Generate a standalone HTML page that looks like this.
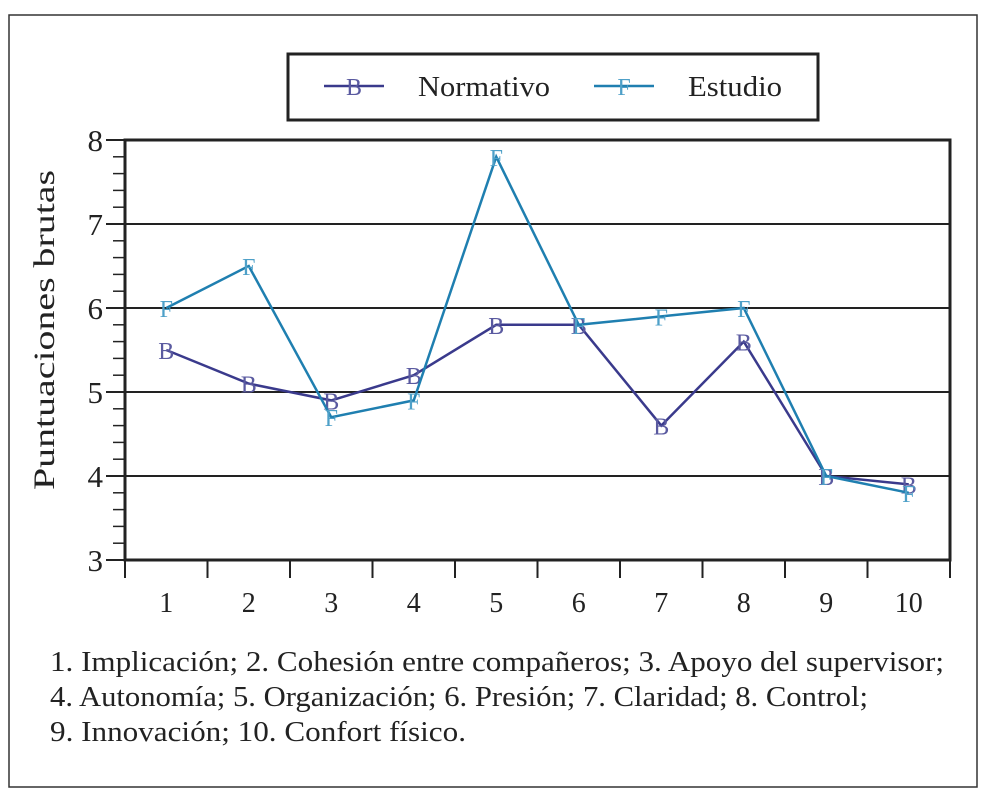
<!DOCTYPE html>
<html><head><meta charset="utf-8"><style>
body{margin:0;background:#fff;width:987px;height:800px;overflow:hidden}
svg text{font-family:"Liberation Serif",serif;fill:#222}
</style></head><body>
<svg width="987" height="800">
<rect x="9" y="15" width="968" height="772" fill="none" stroke="#333" stroke-width="1.5"/>
<g>
<rect x="288" y="54" width="530" height="66" fill="none" stroke="#222" stroke-width="3"/>
<g>
<line x1="324" y1="86" x2="384" y2="86" stroke="#3a3a8c" stroke-width="2.5"/>
<text x="354" y="95" font-size="24" text-anchor="middle" style="fill:#5a5aa0">B</text>
<text x="418" y="96" font-size="28" textLength="132" lengthAdjust="spacingAndGlyphs">Normativo</text></g>
<g>
<line x1="594" y1="86" x2="654" y2="86" stroke="#1f7fb0" stroke-width="2.5"/>
<text x="624" y="95" font-size="24" text-anchor="middle" style="fill:#4ea0c8">F</text>
<text x="688" y="96" font-size="28" textLength="94" lengthAdjust="spacingAndGlyphs">Estudio</text></g>
</g>
<text transform="translate(54,330) rotate(-90)" font-size="30" text-anchor="middle" textLength="320" lengthAdjust="spacingAndGlyphs">Puntuaciones brutas</text>
<g id="plot"></g>
<g font-size="28">
<text x="50" y="671" textLength="894" lengthAdjust="spacingAndGlyphs">1. Implicación; 2. Cohesión entre compañeros; 3. Apoyo del supervisor;</text>
<text x="50" y="706" textLength="818" lengthAdjust="spacingAndGlyphs">4. Autonomía; 5. Organización; 6. Presión; 7. Claridad; 8. Control;</text>
<text x="50" y="741" textLength="416" lengthAdjust="spacingAndGlyphs">9. Innovación; 10. Confort físico.</text>
</g>
</svg>
<script>
const categories=["1","2","3","4","5","6","7","8","9","10"];
const normativo=[5.5,5.1,4.9,5.2,5.8,5.8,4.6,5.6,4.0,3.9];
const estudio=[6.0,6.5,4.7,4.9,7.8,5.8,5.9,6.0,4.0,3.8];
const yTicks=[3,4,5,6,7,8];
const L=125,R=950,T=140,B=560,ymin=3,ymax=8;
const NS="http://www.w3.org/2000/svg";
const g=document.getElementById('plot');
const sx=i=>L+(R-L)/categories.length*(i+0.5);
const sy=v=>B-(v-ymin)/(ymax-ymin)*(B-T);
function mk(t,a,p){const e=document.createElementNS(NS,t);for(const k in a)e.setAttribute(k,a[k]);(p||g).appendChild(e);return e;}
yTicks.forEach(v=>{
 if(v>ymin&&v<ymax){const l=mk('line',{x1:L,x2:R,y1:sy(v),y2:sy(v),stroke:'#222','stroke-width':2});
 
 }
 const m=mk('line',{x1:L-19,x2:L,y1:sy(v),y2:sy(v),stroke:'#222','stroke-width':2});
 
 
 const t=mk('text',{x:L-22,y:sy(v)+11,'font-size':31,'text-anchor':'end'});t.textContent=v;
 
 
});
for(let v=ymin;v<ymax;v++)for(let k=1;k<5;k++){const y=sy(v+k*0.2);
 const m=mk('line',{x1:L-12,x2:L,y1:y,y2:y,stroke:'#222','stroke-width':1.5});
 
 }
const fr=mk('rect',{x:L,y:T,width:R-L,height:B-T,fill:'none',stroke:'#222','stroke-width':3});


for(let i=0;i<=categories.length;i++){const x=L+(R-L)/categories.length*i;
 const m=mk('line',{x1:x,x2:x,y1:B,y2:B+18,stroke:'#222','stroke-width':2});
 
 }
categories.forEach((c,i)=>{const t=mk('text',{x:sx(i),y:B+52,'font-size':28,'text-anchor':'middle'});t.textContent=c;
 
 });
function series(vals,color,mcol,ch,name){
 const p=mk('polyline',{points:vals.map((v,i)=>sx(i)+','+sy(v)).join(' '),fill:'none',stroke:color,'stroke-width':2.5});
 
 
 vals.forEach((v,i)=>{const t=mk('text',{x:sx(i),y:sy(v)+9,'font-size':24,'text-anchor':'middle',style:'fill:'+mcol});t.textContent=ch;
 
 });
}
series(normativo,'#3a3a8c','#5a5aa0','B','normativo');
series(estudio,'#1f7fb0','#4ea0c8','F','estudio');
</script>
</body></html>
